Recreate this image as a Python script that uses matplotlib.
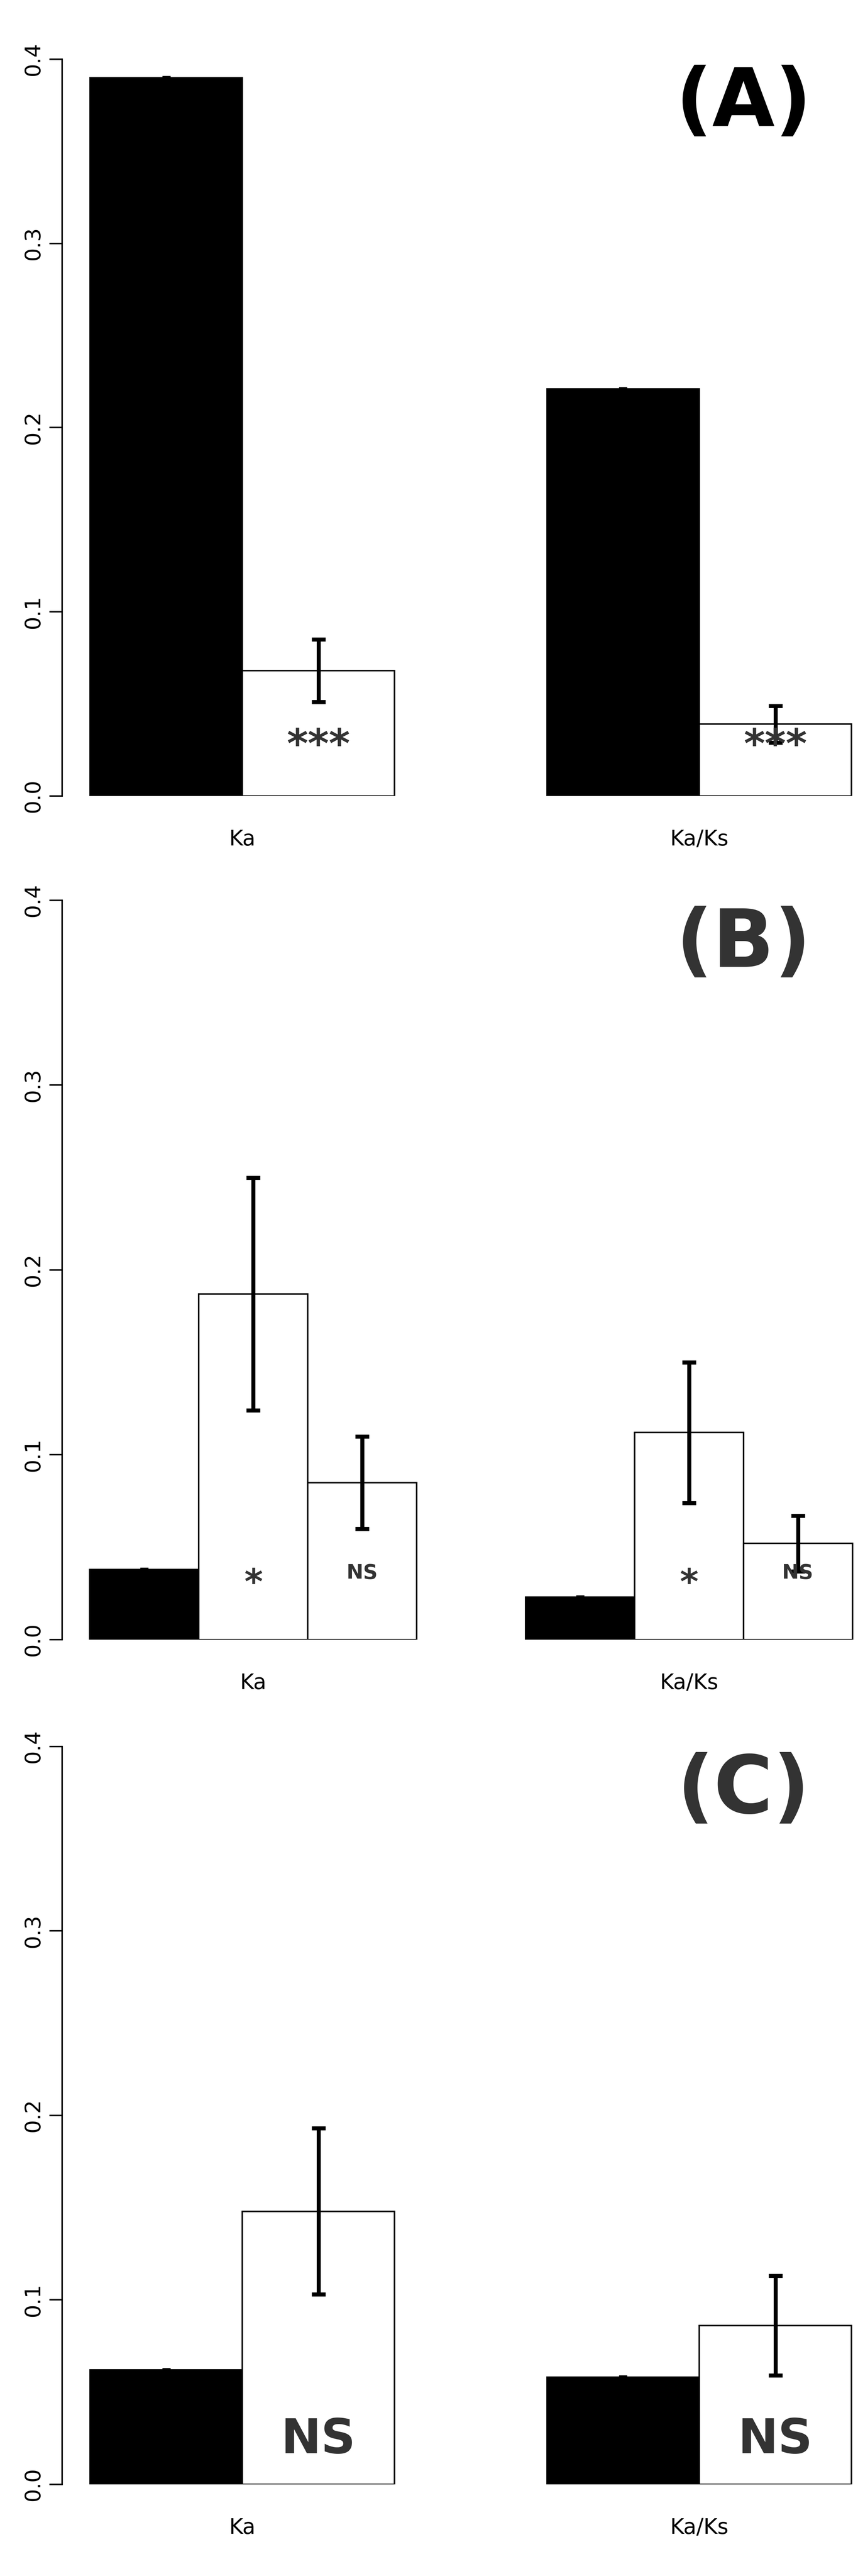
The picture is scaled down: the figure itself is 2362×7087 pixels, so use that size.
import matplotlib
matplotlib.use("Agg")
import matplotlib.pyplot as plt

groups = ["Ka", "Ka/Ks"]

# panel A
a_vals = [[0.390, 0.068], [0.221, 0.039]]
a_lo = [[0.390, 0.051], [0.221, 0.029]]
a_hi = [[0.390, 0.085], [0.221, 0.049]]
a_marks = [[None, "***"], [None, "***"]]

# panel B
b_vals = [[0.038, 0.187, 0.085], [0.023, 0.112, 0.052]]
b_lo = [[0.038, 0.124, 0.060], [0.023, 0.074, 0.037]]
b_hi = [[0.038, 0.250, 0.110], [0.023, 0.150, 0.067]]
b_marks = [[None, "*", "NS"], [None, "*", "NS"]]

# panel C
c_vals = [[0.062, 0.148], [0.058, 0.086]]
c_lo = [[0.062, 0.103], [0.058, 0.059]]
c_hi = [[0.062, 0.193], [0.058, 0.113]]
c_marks = [[None, "NS"], [None, "NS"]]

panels = [
    ("(A)", "black", a_vals, a_lo, a_hi, a_marks, (0.691, 0.977),
     {"***": (80, 0.027)}),
    ("(B)", "#333333", b_vals, b_lo, b_hi, b_marks, (0.3635, 0.6505),
     {"*": (70, 0.030), "NS": (40, 0.036)}),
    ("(C)", "#333333", c_vals, c_lo, c_hi, c_marks, (0.0356, 0.322),
     {"NS": (95, 0.024)}),
]

fig = plt.figure(figsize=(23.62, 70.87), dpi=100)
for label, lcol, vals, lo, hi, marks, (yb, yt), mstyle in panels:
    ax = fig.add_axes([0.0725, yb, 0.996 - 0.0725, yt - yb])
    n = len(vals[0])
    step = n + 1
    for g, name in enumerate(groups):
        for i in range(n):
            x = g * step + i + 0.5
            ax.bar(x, vals[g][i], width=1.0, color="black" if i == 0 else "white",
                   edgecolor="black", linewidth=3)
            ax.errorbar(x, vals[g][i],
                        yerr=[[vals[g][i] - lo[g][i]], [hi[g][i] - vals[g][i]]],
                        fmt="none", ecolor="black", elinewidth=8,
                        capsize=14 if i else 8, capthick=8)
            m = marks[g][i]
            if m:
                fs, yy = mstyle[m]
                ax.text(x, yy, m, ha="center", va="center", fontsize=fs,
                        fontweight="bold", color="#333333")
        ax.text(g * step + n / 2, -0.018, name, ha="center", va="top",
                fontsize=42)
    pad = 17 / (93 if n == 2 else 67)
    ax.set_xlim(-pad, step + n + 0.02)
    ax.set_ylim(0, 0.4)
    ax.set_yticks([0.0, 0.1, 0.2, 0.3, 0.4])
    ax.set_yticklabels(["0.0", "0.1", "0.2", "0.3", "0.4"], rotation=90,
                       va="center", fontsize=42)
    ax.tick_params(axis="y", length=25, width=3, pad=12)
    ax.set_xticks([])
    for s in ["top", "right", "bottom"]:
        ax.spines[s].set_visible(False)
    ax.spines["left"].set_linewidth(3)
    ax.text(0.86, 0.94, label, transform=ax.transAxes, ha="center", va="center",
            fontsize=160, fontweight="bold", color=lcol)

fig.savefig("out.png", dpi=100)
